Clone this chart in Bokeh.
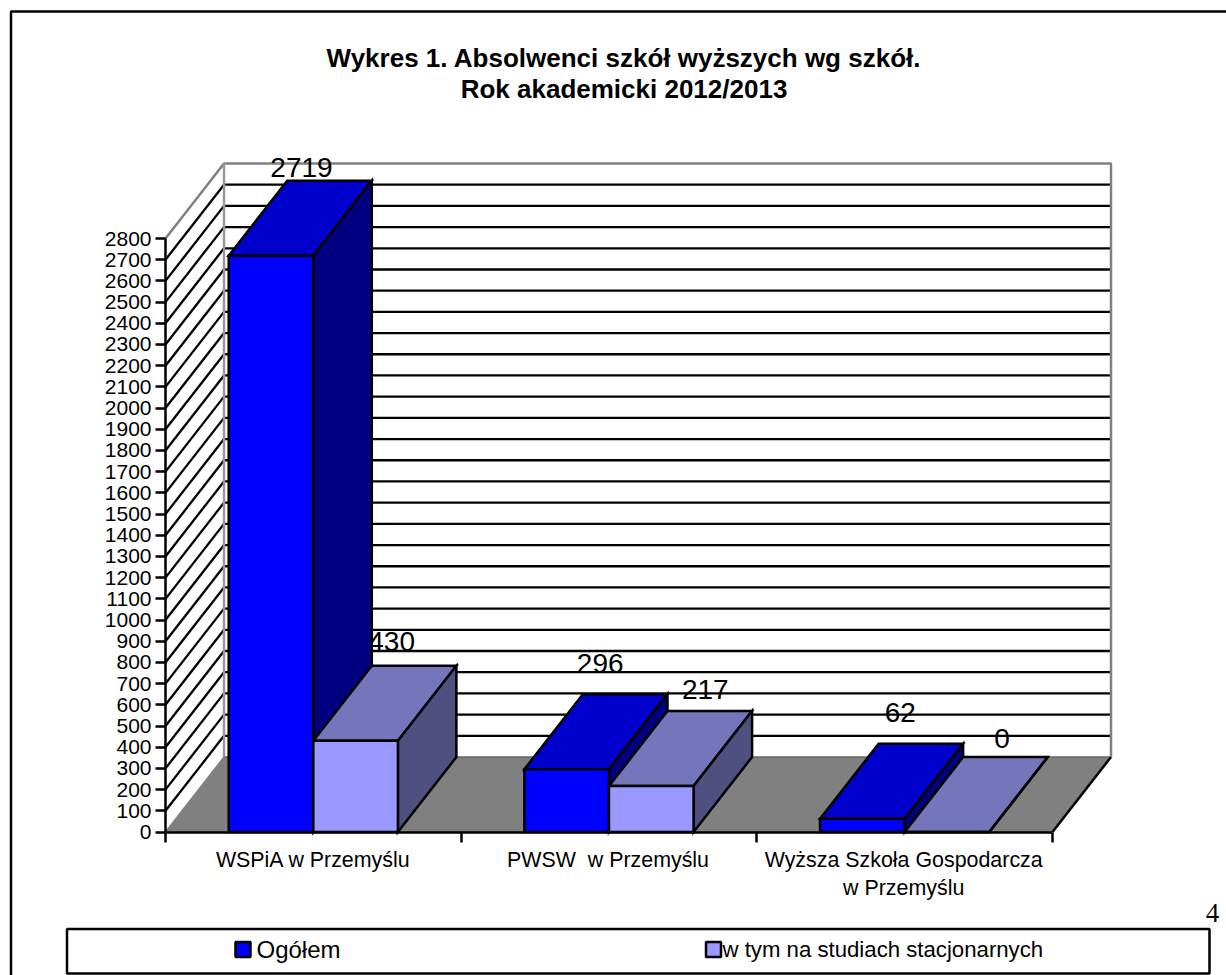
from bokeh.plotting import figure
from bokeh.models import FixedTicker, Range1d
from bokeh.core.properties import value
from bokeh.embed import file_html
from bokeh.resources import INLINE

title_lines = ["Wykres 1. Absolwenci szkół wyższych wg szkół.", "Rok akademicki 2012/2013"]
categories = ["WSPiA w Przemyślu", "PWSW\u00a0\u00a0w Przemyślu", "Wyższa Szkoła Gospodarcza\nw Przemyślu"]
series_names = ["Ogółem", "w tym na studiach stacjonarnych"]
ogolem = [2719, 296, 62]
stacjonarne = [430, 217, 0]
y_ticks = list(range(0, 2900, 100))
x_ticks = [0, 1, 2, 3]
page_number = "4"

# pixel layout of the chart (picture coordinates)
X0, CAT_W = 165.0, 295.67
Y0, PX_V = 831.5, 593.5 / 2800
W, H = 1226, 975
DX, DY = 58.5, 75.0
BAR_W = 84.6 / CAT_W
GAP = 63.2 / CAT_W
dx = DX / CAT_W
dy = DY / PX_V
FONT = value("Liberation Sans")


def sx(px):
    return (px - X0) / CAT_W


def sy(py):
    return (Y0 - py) / PX_V


p = figure(width=W, height=H, output_backend="svg", toolbar_location=None,
           x_range=Range1d(sx(0), sx(W)), y_range=Range1d(sy(H), sy(0)),
           min_border=0, min_border_left=0, min_border_right=0, min_border_top=0, min_border_bottom=0,
           background_fill_color="white", border_fill_color="white", outline_line_color=None)
p.grid.visible = False

# outer frame of the page
p.line([sx(10.5), sx(10.5), sx(W)], [sy(H), sy(11), sy(11)], line_color="black", line_width=2.5)

# floor
p.patch([0, dx, 3 + dx, 3], [0, dy, dy, 0], fill_color="#808080", line_color=None)
p.line([0, dx], [0, dy], line_color="#808080", line_width=1.5)
p.line([dx, 3 + dx], [dy, dy], line_color="#666666", line_width=1.5)
p.line([3, 3 + dx], [0, dy], line_color="black", line_width=2.5)

# gridlines on the side wall and back wall
inner = y_ticks[1:-1]
p.multi_line([[0, dx] for _ in inner], [[t, t + dy] for t in inner], line_color="black", line_width=2.3)
p.multi_line([[dx, 3 + dx] for _ in inner], [[t + dy, t + dy] for t in inner], line_color="black", line_width=2.3)
top = y_ticks[-1]
p.line([0, dx, 3 + dx, 3 + dx], [top, top + dy, top + dy, dy], line_color="#808080", line_width=2.5)
p.line([dx, dx], [top + dy, dy], line_color="#999999", line_width=2.5)

# data labels (painted under the bars, as in the original)
lx, ly, lt = [], [], []
off_x = [30.5, 36, 33.5, 54, 38, 55]
off_y = [-13, -24, -31, -22, -31.5, -18.5]
for c in range(3):
    for s, vals in enumerate((ogolem, stacjonarne)):
        left = c + GAP + s * BAR_W
        lx.append(left + BAR_W / 2)
        ly.append(vals[c] + dy)
        lt.append(str(vals[c]))
p.text(lx, ly, text=lt, x_offset=off_x, y_offset=off_y,
       text_font=FONT, text_font_size="28px", text_align="center", text_baseline="middle", text_color="black")

# bars: each is a back-to-front stack of top, side and front faces
colors = [("#0000CC", "#000080", "#0000FF"), ("#7575BB", "#4F4F80", "#9999FF")]
xs, ys, fills = [], [], []
for c in range(3):
    for s, vals in enumerate((ogolem, stacjonarne)):
        v = vals[c]
        l = c + GAP + s * BAR_W
        r = l + BAR_W
        top_c, side_c, front_c = colors[s]
        xs += [[l, l + dx, r + dx, r], [r, r + dx, r + dx, r], [l, r, r, l]]
        ys += [[v, v + dy, v + dy, v], [0, dy, v + dy, v], [0, 0, v, v]]
        fills += [top_c, side_c, front_c]
p.patches(xs, ys, fill_color=fills, line_color="black", line_width=2.5, line_join="miter")

# axes
p.yaxis.fixed_location = 0
p.yaxis.ticker = FixedTicker(ticks=y_ticks)
p.yaxis.bounds = (0, 2800)
p.yaxis.major_tick_out = 10
p.yaxis.major_tick_in = 0
p.yaxis.minor_tick_line_color = None
p.yaxis.major_tick_line_width = 2.5
p.yaxis.axis_line_width = 2.5
p.yaxis.major_tick_line_color = "black"
p.yaxis.axis_line_color = "black"
p.yaxis.major_label_standoff = 4
p.yaxis.major_label_text_font = "Liberation Sans"
p.yaxis.major_label_text_font_size = "21px"
p.yaxis.major_label_text_color = "black"

p.xaxis.fixed_location = 0
p.xaxis.ticker = FixedTicker(ticks=x_ticks)
p.xaxis.bounds = (0, 3)
p.xaxis.major_tick_out = 10
p.xaxis.major_tick_in = 0
p.xaxis.minor_tick_line_color = None
p.xaxis.major_tick_line_width = 2.5
p.xaxis.axis_line_width = 2.5
p.xaxis.major_tick_line_color = "black"
p.xaxis.axis_line_color = "black"
p.xaxis.major_label_overrides = {t: "" for t in x_ticks}

# category labels
p.text([c + 0.5 for c in range(3)], [0] * 3, text=categories, x_offset=[0, -1, -1], y_offset=[15.5] * 3,
       text_font=FONT, text_font_size="21.4px", text_align="center", text_baseline="top",
       text_color="black", text_line_height=1.2)

# title
p.text([sx(623.5)] * 2, [sy(57), sy(88)], text=title_lines, text_font=FONT, text_font_size="26px",
       text_font_style="bold", text_align="center", text_baseline="middle", text_color="black")

# page number
p.text([sx(1212)], [sy(912)], text=[page_number], text_font=value("Liberation Serif"), text_font_size="27px",
       text_align="center", text_baseline="middle", text_color="black")

# legend box
p.quad(left=[sx(66.5)], right=[sx(1209)], top=[sy(928.5)], bottom=[sy(973)],
       fill_color="white", line_color="black", line_width=2.5)
sw_x = [242.5, 713]
p.scatter([sx(v) for v in sw_x], [sy(949)] * 2, marker="square", size=15,
          fill_color=[colors[0][2], colors[1][2]], line_color="black", line_width=2.5)
p.text([sx(256)], [sy(949)], text=series_names[:1], text_font=FONT, text_font_size="24px",
       text_align="left", text_baseline="middle", text_color="black")
p.text([sx(722)], [sy(949)], text=series_names[1:], text_font=FONT, text_font_size="22.2px",
       text_align="left", text_baseline="middle", text_color="black")

open("out.html", "w").write(file_html(p, INLINE))
